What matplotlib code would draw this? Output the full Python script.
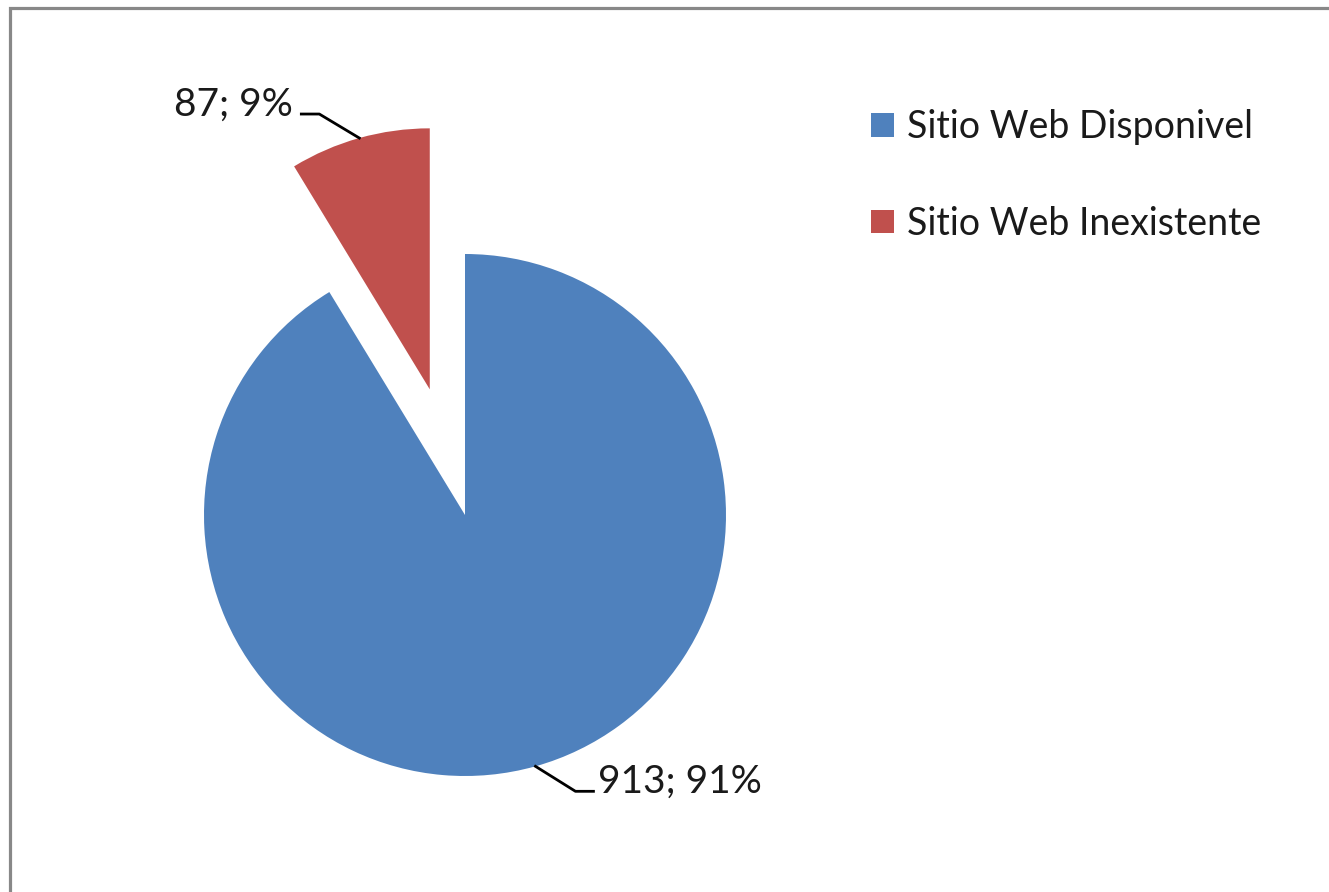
import numpy as np
import matplotlib
matplotlib.use("Agg")
import matplotlib.pyplot as plt

# data
labels = ["Sitio Web Disponivel", "Sitio Web Inexistente"]
values = [913, 87]
percents = ["91%", "9%"]
colors = ["#4F81BD", "#C0504D"]

W, H = 1329, 892
fig = plt.figure(figsize=(W / 100, H / 100), dpi=100)
ax = fig.add_axes([0, 0, 1, 1])

# pie drawn in pixel-like units (y up)
cx, cy, r = 465, H - 515, 261
wedges, _ = ax.pie(values, colors=colors, startangle=90, counterclock=False,
                   explode=[0, 0.5 * r], center=(cx, cy), radius=r,
                   wedgeprops=dict(linewidth=0))
ax.set_xlim(0, W)
ax.set_ylim(0, H)
ax.set_aspect("auto")
ax.axis("off")

# outer chart border (cut off at right and bottom)
ax.plot([9.5, 9.5, W + 20], [-20, H - 7.5, H - 7.5], color="#888888", lw=2.3,
        solid_joinstyle="miter", clip_on=False)

font = "Lato"

# data labels with leader lines
for w, v, p, side in zip(wedges, values, percents, [1, -1]):
    mid = np.deg2rad((w.theta1 + w.theta2) / 2)
    ox, oy = w.center
    ax_, ay_ = ox + w.r * np.cos(mid), oy + w.r * np.sin(mid)
    ex, ey = ax_ + side * 40, ay_ + (-25 if side > 0 else 24)
    hx = ex + side * 18
    ax.plot([ax_, ex, hx], [ay_, ey, ey], color="black", lw=2)
    txt = f"{v}; {p}"
    if side > 0:
        ax.text(hx + 5, ey - 1, txt, ha="left", va="baseline", fontsize=28,
                family=font, color="#1a1a1a")
    else:
        ax.text(hx - 8, ey - 2, txt, ha="right", va="baseline", fontsize=28,
                family=font, color="#1a1a1a")

leg = ax.legend(wedges, labels, loc="upper left",
                bbox_to_anchor=(871 / W, 1 - 109 / H), frameon=False,
                prop={"family": font, "size": 27}, handlelength=0.6,
                handleheight=0.6, handletextpad=0.35, labelspacing=1.62,
                borderpad=0, borderaxespad=0)
for t in leg.get_texts():
    t.set_color("#1a1a1a")

fig.savefig("out.png", dpi=100)
